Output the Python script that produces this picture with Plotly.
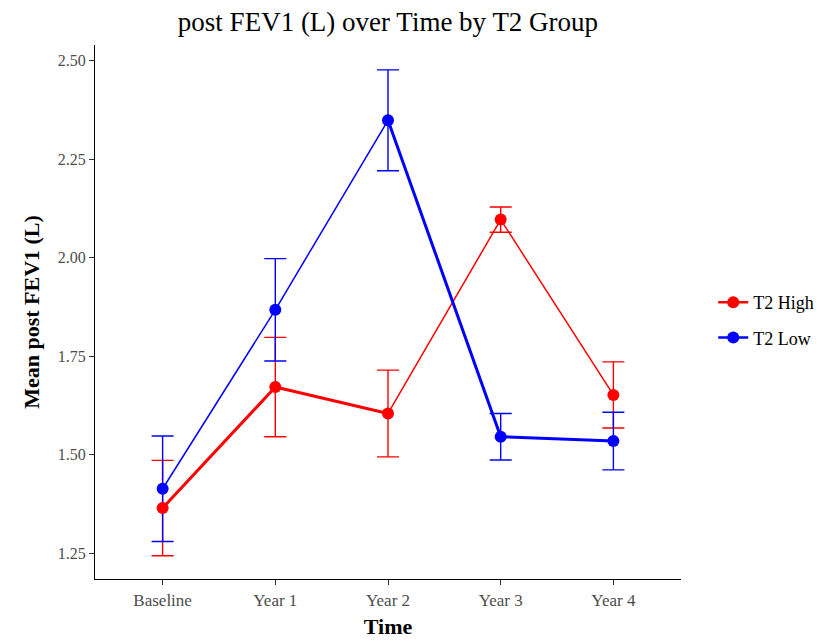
import plotly.graph_objects as go

# Visits and group summaries (mean post-bronchodilator FEV1 and its standard error)
time_points = ["Baseline", "Year 1", "Year 2", "Year 3", "Year 4"]

high_mean = [1.365, 1.672, 1.605, 2.097, 1.652]
high_se = [0.121, 0.126, 0.110, 0.032, 0.084]

low_mean = [1.414, 1.868, 2.349, 1.546, 1.535]
low_se = [0.134, 0.130, 0.128, 0.059, 0.073]

y_ticks = [1.25, 1.50, 1.75, 2.00, 2.25, 2.50]

# Line weight for each connecting segment between consecutive visits
high_seg_width = [3.0, 3.0, 1.5, 1.5]
low_seg_width = [1.5, 1.5, 3.0, 3.0]

groups = [
    ("T2 High", high_mean, high_se, high_seg_width, "#FF0000"),
    ("T2 Low", low_mean, low_se, low_seg_width, "#0000FF"),
]

SERIF = "Liberation Serif, Times New Roman, serif"

fig = go.Figure()

for name, mean, se, seg_w, color in groups:
    # error bars
    fig.add_trace(go.Scatter(
        x=time_points, y=mean, mode="markers",
        marker=dict(size=1, color=color, opacity=0),
        error_y=dict(type="data", array=se, visible=True,
                     color=color, thickness=1.4, width=11),
        showlegend=False, hoverinfo="skip",
    ))
    # connecting segments
    for i in range(len(time_points) - 1):
        fig.add_trace(go.Scatter(
            x=time_points[i:i + 2], y=mean[i:i + 2], mode="lines",
            line=dict(color=color, width=seg_w[i]),
            showlegend=False, hoverinfo="skip",
        ))

for name, mean, se, seg_w, color in groups:
    # points
    fig.add_trace(go.Scatter(
        x=time_points, y=mean, mode="markers",
        marker=dict(size=12, color=color),
        showlegend=False, name=name,
    ))
    # legend entry
    fig.add_trace(go.Scatter(
        x=[None], y=[None], mode="lines+markers", name=name,
        line=dict(color=color, width=2.5),
        marker=dict(size=12, color=color),
        legendgroup=name, showlegend=True,
    ))

fig.update_layout(
    width=833, height=641,
    margin=dict(l=95, r=152, t=45, b=62),
    paper_bgcolor="white", plot_bgcolor="white",
    font=dict(family=SERIF, color="#000000"),
    title=dict(text="post FEV1 (L) over Time by T2 Group",
               x=(95 + 681) / 2 / 833, xanchor="center",
               y=1 - 22 / 641, yanchor="middle",
               font=dict(family=SERIF, size=27, color="#000000")),
    legend=dict(x=1.055, y=0.485, xanchor="left", yanchor="middle",
                font=dict(family=SERIF, size=18, color="#000000"),
                tracegroupgap=9, traceorder="grouped",
                bgcolor="rgba(0,0,0,0)"),
)

fig.update_xaxes(
    type="category", range=[-0.6, 4.6], automargin=False,
    showline=True, linecolor="#000000", linewidth=1.2,
    ticks="outside", ticklen=5, tickcolor="#333333", tickwidth=1,
    tickfont=dict(family=SERIF, size=17, color="#4D4D4D"),
    showgrid=False, zeroline=False,
    title=dict(text="<b>Time</b>", standoff=10,
               font=dict(family=SERIF, size=22, color="#000000")),
)

fig.update_yaxes(
    range=[1.185, 2.540], automargin=False,
    tickvals=y_ticks, ticktext=[f"{v:.2f}" for v in y_ticks],
    showline=True, linecolor="#000000", linewidth=1.2,
    ticks="outside", ticklen=5, tickcolor="#333333", tickwidth=1,
    tickfont=dict(family=SERIF, size=16, color="#4D4D4D"),
    showgrid=False, zeroline=False,
    title=dict(text="<b>Mean post FEV1 (L)</b>", standoff=12,
               font=dict(family=SERIF, size=22, color="#000000")),
)

fig.write_html("out.html")
